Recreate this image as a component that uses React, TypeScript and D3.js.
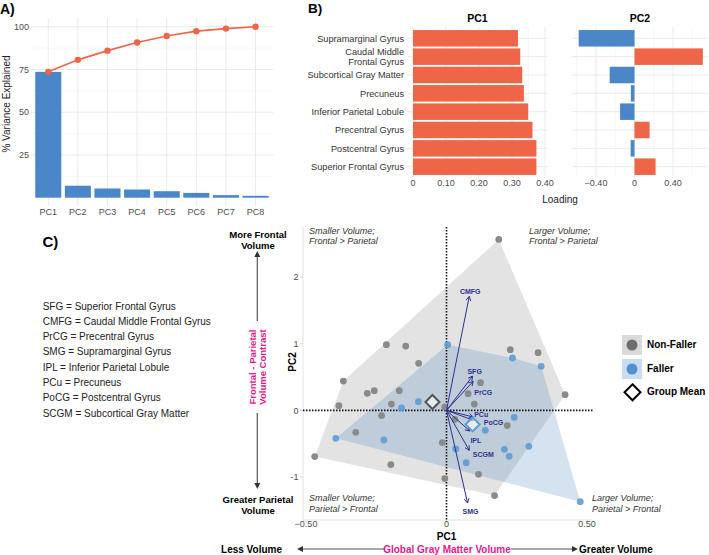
import React, { useEffect, useRef } from "react";
import * as d3 from "d3";

// A) variance explained by each component
const components = ["PC1", "PC2", "PC3", "PC4", "PC5", "PC6", "PC7", "PC8"];
const varianceExplained = [73.6, 7.0, 5.4, 4.8, 3.8, 2.8, 1.5, 1.1];
const varianceTicks = [25, 50, 75, 100];

// B) loadings per region
const regions = [
  "Supramarginal Gyrus",
  "Caudal Middle\nFrontal Gyrus",
  "Subcortical Gray Matter",
  "Precuneus",
  "Inferior Parietal Lobule",
  "Precentral Gyrus",
  "Postcentral Gyrus",
  "Superior Frontal Gyrus",
];
const pc1Loading = [0.318, 0.325, 0.331, 0.336, 0.349, 0.362, 0.374, 0.374];
const pc2Loading = [-0.58, 0.71, -0.258, -0.038, -0.15, 0.157, -0.04, 0.219];
const pc1Ticks = [0, 0.1, 0.2, 0.3, 0.4];
const pc2Ticks = [-0.4, 0, 0.4];

// C) biplot
const abbreviations = [
  "SFG = Superior Frontal Gyrus",
  "CMFG = Caudal Middle Frontal Gyrus",
  "PrCG = Precentral Gyrus",
  "SMG = Supramarginal Gyrus",
  "IPL = Inferior Parietal Lobule",
  "PCu = Precuneus",
  "PoCG = Postcentral Gyrus",
  "SCGM = Subcortical Gray Matter",
];
const nonFallerPC1 = [
  -0.214, -0.145, -0.099, -0.367, -0.282, -0.257, -0.168, -0.383, -0.196, -0.231, -0.323, -0.469, -0.198, -0.015,
  -0.006, 0.186, 0.227, 0.326, 0.422, 0.121, 0.077, 0.099, -0.006, 0.03, 0.216, 0.114, 0.171,
];
const nonFallerPC2 = [
  0.985, 0.964, 0.705, 0.439, 0.255, 0.295, 0.295, 0.07, 0.094, -0.079, -0.33, -0.694, -0.814, -0.484,
  -1.024, 2.564, 0.91, 0.865, 0.235, 0.415, 0.25, 0.094, 0.05, -0.135, -0.229, -0.96, -1.279,
];
const fallerPC1 = [0.004, -0.1, -0.16, -0.394, -0.223, 0.235, 0.337, 0.241, 0.138, 0.293, 0.206, 0.223, 0.033, 0.07, 0.476];
const fallerPC2 = [0.985, 0.13, 0.035, -0.42, -0.445, 0.785, 0.66, -0.105, -0.3, -0.54, -0.585, -0.69, -0.58, -0.785, -1.37];
// group means: non-faller, faller
const meanPC1 = [-0.05, 0.093];
const meanPC2 = [0.125, -0.21];
const vectorNames = ["CMFG", "SFG", "PrCG", "PCu", "PoCG", "IPL", "SCGM", "SMG"];
const vectorPC1 = [0.081, 0.093, 0.095, 0.095, 0.096, 0.083, 0.081, 0.075];
const vectorPC2 = [1.71, 0.514, 0.435, -0.1, -0.15, -0.31, -0.6, -1.39];
const biplotXTicks = [-0.5, 0, 0.5];
const biplotYTicks = [-1, 0, 1, 2];

const FONT = "'Liberation Sans', Arial, Helvetica, sans-serif";
const RED = "#ef6548";
const BLUE = "#4a86c8";
const GRID = "#ebebeb";
const MINOR = "#f3f3f3";
const TICK = "#4d4d4d";
const PINK = "#e5198a";
const NAVY = "#30308f";

// label offsets (px) for the vector names
const vectorLabelNudge: Record<string, [number, number]> = {
  CMFG: [1, -5],
  SFG: [2, -5],
  PrCG: [10, 11],
  PCu: [8, -3],
  PoCG: [20, 2],
  IPL: [6, 9],
  SCGM: [14, 4],
  SMG: [3, 8],
};

const fmt2 = (v: number) => (v === 0 ? "0" : d3.format(".2f")(v));

const App: React.FC = () => {
  const svgRef = useRef<SVGSVGElement | null>(null);

  useEffect(() => {
    const svg = d3.select(svgRef.current);
    svg.selectAll("*").remove();
    svg.attr("width", 709).attr("height", 555).style("font-family", FONT).style("background", "#fff");

    const openHead = (g: any, x0: number, y0: number, x1: number, y1: number, len: number, color: string, w: number) => {
      const ang = Math.atan2(y1 - y0, x1 - x0);
      const a1 = ang + Math.PI - 0.5;
      const a2 = ang + Math.PI + 0.5;
      g.append("path")
        .attr("d", `M${x1 + len * Math.cos(a1)},${y1 + len * Math.sin(a1)}L${x1},${y1}L${x1 + len * Math.cos(a2)},${y1 + len * Math.sin(a2)}`)
        .attr("fill", "none")
        .attr("stroke", color)
        .attr("stroke-width", w);
    };
    const solidArrow = (g: any, x0: number, y0: number, x1: number, y1: number) => {
      const ang = Math.atan2(y1 - y0, x1 - x0);
      const len = 6;
      const bx = x1 - len * Math.cos(ang);
      const by = y1 - len * Math.sin(ang);
      g.append("line").attr("x1", x0).attr("y1", y0).attr("x2", bx).attr("y2", by).attr("stroke", "#555").attr("stroke-width", 1.2);
      const px = Math.sin(ang) * 3;
      const py = -Math.cos(ang) * 3;
      g.append("path")
        .attr("d", `M${x1},${y1}L${bx + px},${by + py}L${bx - px},${by - py}Z`)
        .attr("fill", "#333");
    };

    // ---------------- A) scree plot ----------------
    const gA = svg.append("g");
    const xA = d3.scaleBand<string>().domain(components).range([30.5, 273.3]).paddingInner(0.12).paddingOuter(0.16);
    const yA = d3.scaleLinear().domain([0, 100]).range([197.7, 26.7]);
    const cumulative = Array.from(d3.cumsum(varianceExplained));

    gA.selectAll(".minor").data([12.5, 37.5, 62.5, 87.5]).join("line")
      .attr("x1", 30.5).attr("x2", 273.3).attr("y1", (d) => yA(d)).attr("y2", (d) => yA(d))
      .attr("stroke", MINOR).attr("stroke-width", 0.6);
    gA.selectAll(".major").data(varianceTicks).join("line")
      .attr("x1", 30.5).attr("x2", 273.3).attr("y1", (d) => yA(d)).attr("y2", (d) => yA(d))
      .attr("stroke", GRID).attr("stroke-width", 1);
    gA.selectAll(".vgrid").data(components).join("line")
      .attr("x1", (d) => xA(d)! + xA.bandwidth() / 2).attr("x2", (d) => xA(d)! + xA.bandwidth() / 2)
      .attr("y1", 18).attr("y2", 206).attr("stroke", GRID).attr("stroke-width", 1);

    gA.selectAll(".bar").data(varianceExplained).join("rect")
      .attr("x", (_, i) => xA(components[i])!)
      .attr("y", (d) => yA(d))
      .attr("width", xA.bandwidth())
      .attr("height", (d) => yA(0) - yA(d))
      .attr("fill", BLUE);

    const cumLine = d3.line<number>()
      .x((_, i) => xA(components[i])! + xA.bandwidth() / 2)
      .y((d) => yA(d));
    gA.append("path").attr("d", cumLine(cumulative)!).attr("fill", "none").attr("stroke", RED).attr("stroke-width", 1.6);
    gA.selectAll(".pt").data(cumulative).join("circle")
      .attr("cx", (_, i) => xA(components[i])! + xA.bandwidth() / 2)
      .attr("cy", (d) => yA(d))
      .attr("r", 3.2)
      .attr("fill", RED);

    gA.selectAll(".ytl").data(varianceTicks).join("text")
      .attr("x", 29).attr("y", (d) => yA(d) + 3.2).attr("text-anchor", "end")
      .style("font-size", "9px").attr("fill", TICK).text((d) => d);
    gA.selectAll(".xtl").data(components).join("text")
      .attr("x", (d) => xA(d)! + xA.bandwidth() / 2).attr("y", 215).attr("text-anchor", "middle")
      .style("font-size", "9px").attr("fill", TICK).text((d) => d);
    gA.append("text")
      .attr("transform", "translate(9.5,104) rotate(-90)")
      .attr("text-anchor", "middle").style("font-size", "10px").attr("fill", "#222")
      .text("% Variance Explained");
    svg.append("text").attr("x", 0).attr("y", 13.5).style("font-size", "14px").style("font-weight", "bold").text("A)");

    // ---------------- B) loadings ----------------
    const gB = svg.append("g");
    const yB = d3.scaleBand<string>().domain(regions).range([27.3, 177.7]).paddingInner(0.1).paddingOuter(0.15);
    const xB1 = d3.scaleLinear().domain([0, 0.4]).range([413, 545]);
    const xB2 = d3.scaleLinear().domain([-0.4, 0.4]).range([596, 673]);
    const bTop = 27, bBottom = 178;
    const panels = [
      { x: xB1, left: 407, right: 548, ticks: pc1Ticks, minor: [0.05, 0.15, 0.25, 0.35], values: pc1Loading, title: "PC1" },
      { x: xB2, left: 572, right: 708, ticks: pc2Ticks, minor: [-0.6, -0.2, 0.2, 0.6], values: pc2Loading, title: "PC2" },
    ];
    panels.forEach((p) => {
      const g = gB.append("g");
      g.selectAll(".minor").data(p.minor).join("line")
        .attr("x1", (d) => p.x(d)).attr("x2", (d) => p.x(d)).attr("y1", bTop).attr("y2", bBottom)
        .attr("stroke", MINOR).attr("stroke-width", 0.6);
      g.selectAll(".major").data(p.ticks).join("line")
        .attr("x1", (d) => p.x(d)).attr("x2", (d) => p.x(d)).attr("y1", bTop).attr("y2", bBottom)
        .attr("stroke", GRID).attr("stroke-width", 1);
      g.selectAll(".hgrid").data(regions).join("line")
        .attr("x1", p.left).attr("x2", p.right)
        .attr("y1", (d) => yB(d)! + yB.bandwidth() / 2).attr("y2", (d) => yB(d)! + yB.bandwidth() / 2)
        .attr("stroke", GRID).attr("stroke-width", 1);
      g.selectAll(".bar").data(p.values).join("rect")
        .attr("x", (d) => Math.min(p.x(0), p.x(d)))
        .attr("y", (_, i) => yB(regions[i])!)
        .attr("width", (d) => Math.abs(p.x(d) - p.x(0)))
        .attr("height", yB.bandwidth())
        .attr("fill", (d) => (d >= 0 ? RED : BLUE));
      g.selectAll(".tl").data(p.ticks).join("text")
        .attr("x", (d) => p.x(d)).attr("y", 186).attr("text-anchor", "middle")
        .style("font-size", "9px").attr("fill", TICK).text((d) => fmt2(d));
      g.append("text")
        .attr("x", (p.left + p.right) / 2).attr("y", 21.5).attr("text-anchor", "middle")
        .style("font-size", "10.5px").style("font-weight", "bold").text(p.title);
    });
    regions.forEach((r) => {
      const lines = r.split("\n");
      const cy = yB(r)! + yB.bandwidth() / 2;
      lines.forEach((ln, j) => {
        gB.append("text")
          .attr("x", 404)
          .attr("y", cy + 3.2 + (j - (lines.length - 1) / 2) * 10.6)
          .attr("text-anchor", "end")
          .style("font-size", "9.2px").attr("fill", "#333")
          .text(ln);
      });
    });
    gB.append("text").attr("x", 560).attr("y", 203).attr("text-anchor", "middle")
      .style("font-size", "10px").attr("fill", "#222").text("Loading");
    svg.append("text").attr("x", 308).attr("y", 12.5).style("font-size", "13.5px").style("font-weight", "bold").text("B)");

    // ---------------- C) biplot ----------------
    svg.append("text").attr("x", 42.5).attr("y", 246.5).style("font-size", "15px").style("font-weight", "bold").text("C)");
    svg.selectAll(".abbr").data(abbreviations).join("text")
      .attr("x", 42.7).attr("y", (_, i) => 309.5 + i * 15.33)
      .style("font-size", "10px").attr("fill", "#222").text((d) => d);

    const gC = svg.append("g");
    const xC = d3.scaleLinear().domain([-0.5, 0.5]).range([306, 587]);
    const yC = d3.scaleLinear().domain([-1, 2]).range([477, 277]);
    const cLeft = 303, cRight = 593, cTop = 227, cBottom = 520;

    // axis lines and ticks
    gC.append("line").attr("x1", cLeft).attr("x2", cLeft).attr("y1", cTop).attr("y2", cBottom).attr("stroke", "#dcdcdc").attr("stroke-width", 0.8);
    gC.append("line").attr("x1", cLeft).attr("x2", cRight).attr("y1", cBottom).attr("y2", cBottom).attr("stroke", "#dcdcdc").attr("stroke-width", 0.8);
    gC.selectAll(".yt").data(biplotYTicks).join("line")
      .attr("x1", cLeft - 3).attr("x2", cLeft).attr("y1", (d) => yC(d)).attr("y2", (d) => yC(d))
      .attr("stroke", "#cfcfcf").attr("stroke-width", 0.8);
    gC.selectAll(".xt").data(biplotXTicks).join("line")
      .attr("x1", (d) => xC(d)).attr("x2", (d) => xC(d)).attr("y1", cBottom).attr("y2", cBottom + 3)
      .attr("stroke", "#cfcfcf").attr("stroke-width", 0.8);
    gC.selectAll(".ytl").data(biplotYTicks).join("text")
      .attr("x", 298.5).attr("y", (d) => yC(d) + 3.2).attr("text-anchor", "end")
      .style("font-size", "9px").attr("fill", TICK).text((d) => d);
    gC.selectAll(".xtl").data(biplotXTicks).join("text")
      .attr("x", (d) => xC(d)).attr("y", 527).attr("text-anchor", "middle")
      .style("font-size", "9px").attr("fill", TICK).text((d) => fmt2(d));

    const nonFaller: [number, number][] = nonFallerPC1.map((v, i) => [xC(v), yC(nonFallerPC2[i])]);
    const faller: [number, number][] = fallerPC1.map((v, i) => [xC(v), yC(fallerPC2[i])]);
    const hullPath = (pts: [number, number][]) => "M" + d3.polygonHull(pts)!.map((p) => p.join(",")).join("L") + "Z";
    gC.append("path").attr("d", hullPath(nonFaller)).attr("fill", "#808080").attr("fill-opacity", 0.22);
    gC.append("path").attr("d", hullPath(faller)).attr("fill", "#377abc").attr("fill-opacity", 0.21);

    // zero reference lines
    gC.append("line").attr("x1", xC(0)).attr("x2", xC(0)).attr("y1", cTop).attr("y2", cBottom)
      .attr("stroke", "#111").attr("stroke-width", 1.6).attr("stroke-dasharray", "1.5,1.5");
    gC.append("line").attr("x1", cLeft).attr("x2", cRight).attr("y1", yC(0)).attr("y2", yC(0))
      .attr("stroke", "#111").attr("stroke-width", 1.6).attr("stroke-dasharray", "1.5,1.5");

    gC.selectAll(".nf").data(nonFaller).join("circle")
      .attr("cx", (d) => d[0]).attr("cy", (d) => d[1]).attr("r", 3.4).attr("fill", "#8a8a8a");
    gC.selectAll(".f").data(faller).join("circle")
      .attr("cx", (d) => d[0]).attr("cy", (d) => d[1]).attr("r", 3.4).attr("fill", "#5d9bd3").attr("fill-opacity", 0.9);

    // variable vectors
    vectorNames.forEach((name, i) => {
      const x0 = xC(0), y0 = yC(0);
      const x1 = xC(vectorPC1[i]), y1 = yC(vectorPC2[i]);
      gC.append("line").attr("x1", x0).attr("y1", y0).attr("x2", x1).attr("y2", y1).attr("stroke", NAVY).attr("stroke-width", 1);
      openHead(gC, x0, y0, x1, y1, 5, NAVY, 1);
      const [dx, dy] = vectorLabelNudge[name];
      gC.append("text").attr("x", x1 + dx).attr("y", y1 + dy + 2.5).attr("text-anchor", "middle")
        .style("font-size", "7px").style("font-weight", "bold").attr("fill", NAVY).text(name);
    });

    // group means
    const diamond = (g: any, cx: number, cy: number, s: number, stroke: string) =>
      g.append("path")
        .attr("d", `M${cx},${cy - s}L${cx + s},${cy}L${cx},${cy + s}L${cx - s},${cy}Z`)
        .attr("fill", "#fff").attr("fill-opacity", 0.6)
        .attr("stroke", stroke).attr("stroke-width", 2);
    diamond(gC, xC(meanPC1[0]), yC(meanPC2[0]), 7, "#555");
    diamond(gC, xC(meanPC1[1]), yC(meanPC2[1]), 7, "#5d9bd3");

    // quadrant notes
    const quad = [
      { x: 309, y: 233.5, anchor: "start", lines: ["Smaller Volume;", "Frontal > Parietal"] },
      { x: 529, y: 233.5, anchor: "start", lines: ["Larger Volume;", "Frontal > Parietal"] },
      { x: 309, y: 501, anchor: "start", lines: ["Smaller Volume;", "Parietal > Frontal"] },
      { x: 592, y: 501, anchor: "start", lines: ["Larger Volume;", "Parietal > Frontal"] },
    ];
    quad.forEach((q) =>
      q.lines.forEach((ln, j) =>
        gC.append("text").attr("x", q.x).attr("y", q.y + j * 10.7).attr("text-anchor", q.anchor)
          .style("font-size", "9px").style("font-style", "italic").attr("fill", "#333").text(ln)
      )
    );

    gC.append("text").attr("x", xC(0)).attr("y", 540).attr("text-anchor", "middle")
      .style("font-size", "10px").style("font-weight", "bold").text("PC1");
    gC.append("text").attr("transform", "translate(295.5,362) rotate(-90)").attr("text-anchor", "middle")
      .style("font-size", "10px").style("font-weight", "bold").text("PC2");

    // legend
    const lg = svg.append("g");
    lg.append("rect").attr("x", 622).attr("y", 335).attr("width", 20).attr("height", 20).attr("fill", "#dadada");
    lg.append("circle").attr("cx", 632).attr("cy", 345).attr("r", 5.5).attr("fill", "#6e6e6e");
    lg.append("rect").attr("x", 622).attr("y", 359).attr("width", 20).attr("height", 20).attr("fill", "#cadcef");
    lg.append("circle").attr("cx", 632).attr("cy", 369).attr("r", 5.5).attr("fill", "#4f92cf");
    lg.append("path").attr("d", "M632.5,384.3L640.5,392.3L632.5,400.3L624.5,392.3Z")
      .attr("fill", "#fff").attr("stroke", "#000").attr("stroke-width", 2);
    [["Non-Faller", 348], ["Faller", 372], ["Group Mean", 394.5]].forEach(([t, y]) =>
      lg.append("text").attr("x", 647).attr("y", y as number).style("font-size", "10px").style("font-weight", "bold").text(t as string)
    );

    // direction annotations
    const ann = svg.append("g");
    [["More Frontal", 237.5], ["Volume", 248.5], ["Greater Parietal", 502.5], ["Volume", 513.5]].forEach(([t, y]) =>
      ann.append("text").attr("x", 258).attr("y", y as number).attr("text-anchor", "middle")
        .style("font-size", "9.5px").style("font-weight", "bold").text(t as string)
    );
    solidArrow(ann, 257.3, 321, 257.3, 251);
    solidArrow(ann, 257.3, 413, 257.3, 489);
    [["Frontal - Parietal", 255.8], ["Volume Contrast", 265.5]].forEach(([t, x]) =>
      ann.append("text").attr("transform", `translate(${x},367) rotate(-90)`).attr("text-anchor", "middle")
        .style("font-size", "9.5px").style("font-weight", "bold").attr("fill", PINK).text(t as string)
    );
    ann.append("text").attr("x", 282).attr("y", 552.5).attr("text-anchor", "end")
      .style("font-size", "10px").style("font-weight", "bold").text("Less Volume");
    solidArrow(ann, 384, 549, 297, 549);
    ann.append("text").attr("x", 447).attr("y", 552.5).attr("text-anchor", "middle")
      .style("font-size", "10px").style("font-weight", "bold").attr("fill", PINK).text("Global Gray Matter Volume");
    solidArrow(ann, 511, 549, 578, 549);
    ann.append("text").attr("x", 579).attr("y", 552.5)
      .style("font-size", "10px").style("font-weight", "bold").text("Greater Volume");
  }, []);

  return (
    <div style={{ position: "absolute", left: 0, top: 0, width: 709, height: 555 }}>
      <svg ref={svgRef}></svg>
    </div>
  );
};

export default App;
